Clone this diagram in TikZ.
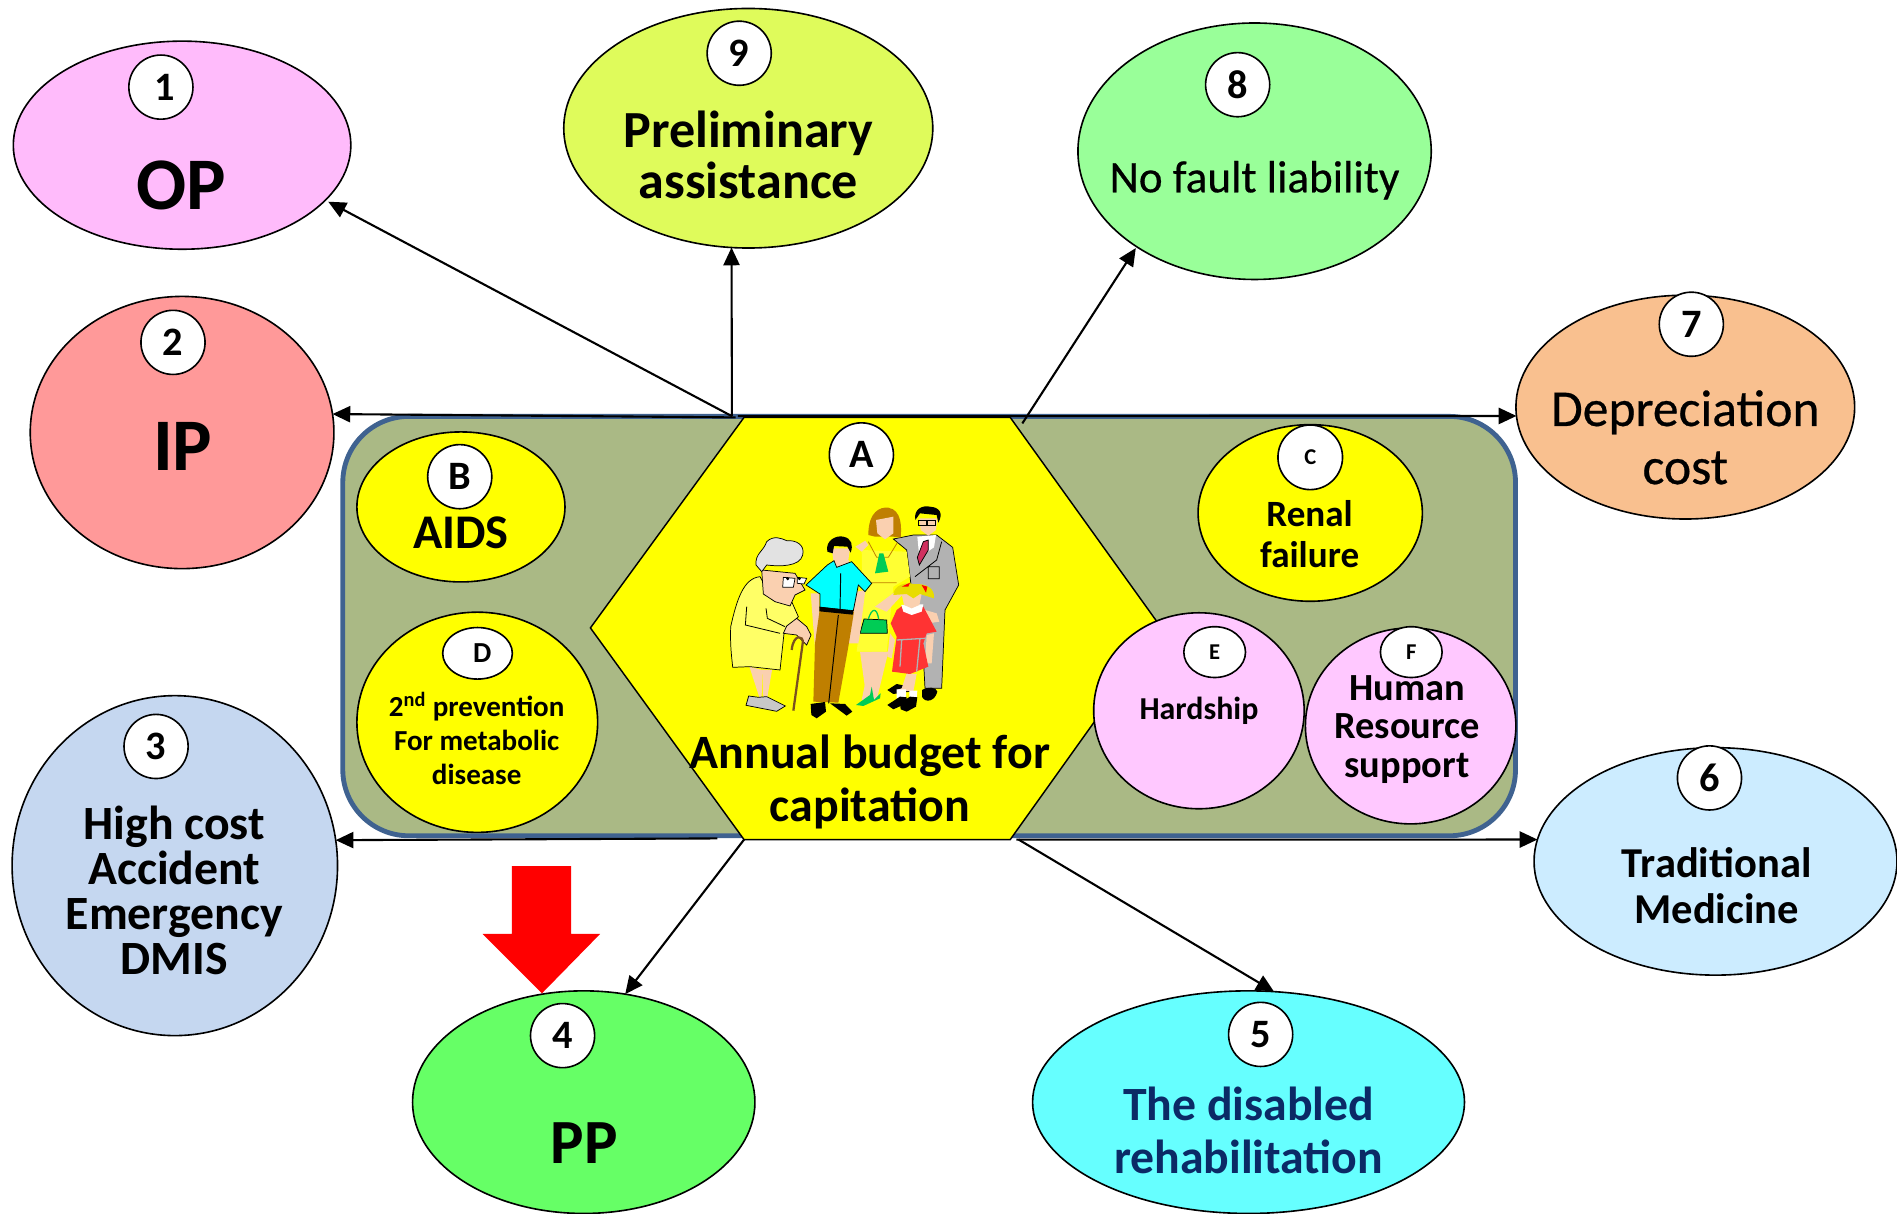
\documentclass[tikz,border=0pt]{standalone}
\usepackage{fontspec}
\setmainfont{Carlito}
\newfontfamily\semifont[FakeBold=0.5]{Carlito}
\usetikzlibrary{shapes.geometric,arrows.meta}
\definecolor{panelfill}{HTML}{AAB985}
\definecolor{panelline}{HTML}{3F6290}
\definecolor{navy}{HTML}{0B2A66}
\definecolor{skin}{HTML}{FAD0B0}
\definecolor{brownish}{HTML}{BF7F00}
\definecolor{suit}{HTML}{B2B2B2}
\definecolor{grandma}{HTML}{FFFF66}
\definecolor{bag}{HTML}{00CC55}
\definecolor{cone}{HTML}{FFBBFB}
\definecolor{cnine}{HTML}{DFFB5B}
\definecolor{ceight}{HTML}{99FF99}
\definecolor{ctwo}{HTML}{FF9999}
\definecolor{cseven}{HTML}{F9C08F}
\definecolor{cthree}{HTML}{C5D7F0}
\definecolor{csix}{HTML}{CCECFF}
\definecolor{cfour}{HTML}{66FF66}
\definecolor{cfive}{HTML}{66FFFF}
\definecolor{cinner}{HTML}{FFC8FF}
\definecolor{hexy}{HTML}{FFFF00}
\definecolor{shirt}{HTML}{00FFFF}
\definecolor{wdress}{HTML}{FFFF33}
\definecolor{girlhair}{HTML}{E8DC00}
\definecolor{girldress}{HTML}{FF3333}
\definecolor{stripe}{HTML}{D03060}
\definecolor{shoe}{HTML}{C8C8C8}
\definecolor{whitehair}{HTML}{E2E2E2}
\definecolor{cane}{HTML}{7A5020}
\newcommand{\fz}[2]{\fontsize{#1pt}{#2pt}\selectfont}
\tikzset{
  oval/.style={ellipse,draw=black,line width=1pt,inner sep=0pt,outer sep=0pt},
  badge/.style={oval,fill=white,font=\bfseries},
  lbl/.style={align=center,inner sep=0pt},
  conn/.style={-{Triangle[length=11pt,width=10pt]},line width=1.3pt,black},
  fig/.style={draw=black,line width=0.45pt}
}
\newcommand{\ov}[7][oval]{\node[#1,fill=#7,minimum width=#5*1.5pt,minimum height=#6*1.5pt] (#2) at (#3,#4) {};}
\newcommand{\bd}[6]{\node[badge,minimum width=#4*1.5pt,minimum height=#5*1.5pt] (#1) at (#2,#3) {#6};}
\begin{document}
\begin{tikzpicture}[x=0.75pt,y=-0.75pt]
\useasboundingbox (0,0) rectangle (1568,1003.4);
% panel
\node[draw=panelline,fill=panelfill,line width=3pt,rounded corners=41pt,minimum width=727pt,minimum height=260pt,inner sep=0pt] (panel) at (768,517.5) {};
% hexagon
\draw[fill=hexy,draw=black,line width=0.9pt] (615,345) -- (835,345) -- (960,519) -- (835,694) -- (615,694) -- (488,519) -- cycle;
\coordinate (hTL) at (605,344);
\coordinate (hTLb) at (608,345);
\coordinate (hT) at (610,344);
\coordinate (hTR) at (845,350);
\coordinate (hBL) at (593,693);
\coordinate (hBLd) at (615,694);
\coordinate (hBR) at (842,694);
\coordinate (hBRr) at (840,694);
% outer ovals
\ov{e1}{150.5}{120}{139.5}{86}{cone}
\ov{e9}{618.5}{106}{152.5}{99}{cnine}
\ov{e8}{1037}{125}{146}{106}{ceight}
\ov{e2}{150.5}{357.5}{125.5}{112.5}{ctwo}
\ov{e7}{1393}{336.5}{140}{92.5}{cseven}
\ov{e3}{144.5}{715.5}{134.5}{140.5}{cthree}
\ov{e6}{1418}{712}{150}{94}{csix}
\ov{e4}{482.5}{911}{141.5}{92}{cfour}
\ov{e5}{1032}{911}{178.5}{92}{cfive}
% inner ovals
\ov{iB}{381}{419}{86}{62}{hexy}
\ov{iD}{394.5}{597}{99.5}{91}{hexy}
\ov{iC}{1083}{424}{92.7}{73}{hexy}
\ov{iE}{991}{587.5}{87}{81}{cinner}
\ov{iF}{1166}{600}{87}{81}{cinner}
% connectors
\draw[conn,shorten >=2pt] (hTL) -- (e1.-21);
\draw[conn] (hTL) -- (e9.-98);
\draw[conn,shorten >=1pt] (hTR) -- (e8.219.6);
\draw[conn] (hTLb) -- (e2.7.5);
\draw[conn] (hT) -- (e7.183);
\draw[conn] (hBL) -- (e3.9.4);
\draw[conn] (hBRr) -- (e6.173);
\draw[conn] (hBLd) -- (e4.69.6);
\draw[conn] (hBR) -- (e5.77.7);
% red arrow
\fill[red] (423,716) -- (472,716) -- (472,772) -- (496,772) -- (448,821) -- (399,772) -- (423,772) -- cycle;
% badges
\bd{b1}{133}{72}{26.5}{26.5}{\fz{25}{25}\kern5pt 1}
\bd{b9}{611}{44}{26.5}{26.5}{\fz{25}{25}9}
\bd{b8}{1023}{70}{26.5}{26.5}{\fz{25}{25}8}
\bd{b2}{143}{283}{26.5}{26.5}{\fz{25}{25}2}
\bd{b7}{1398}{268}{26.5}{26.5}{\fz{25}{25}7}
\bd{b3}{129}{617}{26.5}{26.5}{\fz{25}{25}3}
\bd{b6}{1413}{643}{26.5}{26.5}{\fz{25}{25}6}
\bd{b4}{465}{856}{26.5}{26.5}{\fz{25}{25}4}
\bd{b5}{1042}{855}{26.5}{26.5}{\fz{25}{25}5}
\bd{bA}{712}{376}{26.5}{26.5}{\fz{25}{25}A}
\bd{bB}{380}{394}{26.5}{26.5}{\fz{25}{25}B}
\bd{bC}{1083}{378}{26.7}{26.7}{\fz{14}{14}C}
\bd{bD}{394.7}{540}{28.8}{21.3}{\fz{18}{18}\kern6pt D}
\bd{bE}{1004}{539}{25.5}{21}{\fz{14}{14}E}
\bd{bF}{1166.5}{539}{25.5}{21}{\fz{14}{14}F}
% labels
\node[lbl,font=\bfseries\fz{46}{46}] (tOP) at (150,153) {OP};
\node[lbl,font=\bfseries\fz{46}{46}] (tIP) at (151,369) {IP};
\node[lbl,font=\bfseries\fz{32.3}{31.5}] (t9) at (618.5,128) {Preliminary\\assistance};
\node[lbl,font=\semifont\fz{28}{32}] (t8) at (1037,149) {No fault liability};
\node[lbl,font=\semifont\fz{32}{36}] (t7) at (1393,361.5) {Depreciation\\cost};
\node[lbl,font=\bfseries\fz{29.6}{28}] (t3) at (144,736) {High cost\\Accident\\Emergency\\DMIS};
\node[lbl,font=\bfseries\fz{26.4}{29}] (t6) at (1419,732) {Traditional\\Medicine};
\node[lbl,font=\bfseries\fz{29.6}{33.2},text=navy] (t5) at (1032,934.5) {The disabled\\rehabilitation};
\node[lbl,font=\bfseries\fz{39}{39}] (t4) at (483,945) {PP};
\node[lbl,font=\bfseries\fz{30}{30}] (tB) at (381,440.5) {AIDS};
\node[lbl,font=\bfseries\fz{23}{25}] (tC) at (1082.5,441.5) {Renal\\failure};
\node[lbl,font=\bfseries\fz{18}{21}] (tD) at (394,610.5) {2\textsuperscript{nd} prevention\\For metabolic\\disease};
\node[lbl,font=\bfseries\fz{19.8}{20}] (tE) at (991,587.5) {Hardship};
\node[lbl,font=\bfseries\fz{23.8}{24}] (tF) at (1163,603) {Human\\Resource\\support};
\node[lbl,font=\bfseries\fz{29.7}{32.5}] (tA) at (719,646.5) {Annual budget for\\capitation};
% family clip-art
\begin{scope}[shift={(562.1,388.5)},x=0.2066pt,y=-0.2066pt]
 % father
 \draw[fig,fill=suit] (640,207) -- (700,195) -- (770,195) -- (818,232) -- (836,345) -- (795,420) -- (785,655) -- (735,655) -- (730,560) -- (700,400) -- (690,320) -- (680,240) -- cycle;
 \fill[white] (712,200) -- (768,195) -- (762,232) -- (718,262) -- cycle;
 \draw[fig,fill=stripe] (730,215) -- (745,210) -- (745,240) -- (718,285) -- (712,262) -- cycle;
 \draw[black,line width=.5pt] (785,215) -- (770,270) -- (705,320) (745,290) rectangle (778,326);
 \fill[skin] (718,145) -- (772,145) -- (768,180) -- (745,197) -- (722,180) -- cycle;
 \fill[black] (706,150) .. controls (700,115) and (730,105) .. (750,110) .. controls (780,112) and (790,130) .. (775,158) -- (770,135) -- (720,130) -- cycle;
 \draw[black,line width=.4pt] (714,150) rectangle (738,165) (742,150) rectangle (766,165);
 \fill[black] (726,660) .. controls (740,650) and (770,650) .. (772,665) .. controls (765,695) and (735,700) .. (726,680) -- cycle;
 \fill[black] (622,660) -- (650,642) -- (690,650) -- (690,665) -- (640,672) -- cycle;
 % woman
 \fill[skin] (590,690) -- (625,545) -- (575,545) -- (545,690) -- cycle;
 \fill[skin] (570,690) -- (610,545) -- (540,545) -- (560,690) -- cycle;
 \fill[wdress] (545,240) -- (680,245) -- (690,320) -- (640,350) -- (620,545) -- (530,545) -- (548,400) -- cycle;
 \draw[brownish,line width=.5pt] (565,215) -- (590,262) -- (625,262) -- (652,218) (575,338) -- (650,338);
 \fill[brownish] (565,195) .. controls (565,125) and (600,110) .. (625,113) .. controls (665,120) and (665,170) .. (662,203) -- (640,200) -- (585,200) -- cycle;
 \fill[skin] (588,150) -- (640,140) -- (640,190) -- (615,208) -- (592,190) -- cycle;
 \fill[bag] (598,250) -- (610,250) -- (625,305) -- (585,310) -- cycle;
 \fill[skin] (526,230) -- (556,212) -- (565,225) -- (545,245) -- cycle;
 \fill[bag] (528,705) -- (570,675) -- (575,650) -- (582,690) -- (602,670) -- (600,685) -- (550,708) -- cycle;
 \draw[fig,fill=bag] (552,447) -- (620,450) -- (622,490) -- (540,490) -- cycle;
 \draw[bag,line width=.8pt] (565,447) .. controls (575,415) and (590,410) .. (596,447);
 \fill[skin] (585,410) -- (680,340) -- (690,350) -- (620,425) -- cycle;
 % son
 \fill[skin] (392,370) -- (418,370) -- (418,520) -- (445,535) -- (405,535) -- cycle;
 \fill[skin] (530,365) -- (556,360) -- (540,490) -- (535,520) -- (500,520) -- cycle;
 \fill[brownish] (420,412) -- (522,425) -- (505,530) -- (475,698) -- (400,695) -- (405,520) -- cycle;
 \draw[black,line width=.6pt] (475,435) -- (446,700);
 \fill[skin] (455,235) -- (510,235) -- (505,270) -- (515,285) -- (465,300) -- (460,270) -- cycle;
 \fill[black] (442,245) .. controls (435,210) and (470,195) .. (490,200) .. controls (515,205) and (520,225) .. (512,248) -- (502,230) -- (462,228) -- (458,250) -- cycle;
 \draw[fig,fill=shirt] (378,345) -- (442,285) -- (462,272) -- (470,292) -- (515,275) -- (575,340) -- (555,365) -- (535,345) -- (520,422) -- (420,412) -- (420,372) -- cycle;
 \draw[black,line width=.6pt] (482,310) -- (480,422);
 \fill[black] (418,410) -- (520,422) -- (518,434) -- (418,424) -- cycle;
 \fill[black] (392,702) -- (435,696) -- (438,725) -- (410,745) -- (394,735) -- cycle;
 \fill[black] (450,700) -- (495,702) -- (517,725) -- (500,737) -- cycle;
 % girl
 \fill[skin] (680,610) -- (665,655) -- (650,660) -- (700,665) -- (710,612) -- cycle;
 \fill[skin] (630,490) -- (622,560) -- (635,565) -- (645,510) -- cycle;
 \fill[skin] (740,495) -- (735,580) -- (755,580) -- (762,490) -- cycle;
 \fill[skin] (735,420) -- (770,430) -- (778,455) -- (745,460) -- cycle;
 \fill[girldress] (650,420) -- (670,405) -- (730,410) -- (770,485) -- (740,490) -- (730,520) -- (745,590) -- (690,612) -- (636,605) -- (650,500) -- (632,460) -- cycle;
 \fill[white] (664,405) -- (730,403) -- (725,425) -- (695,435) -- (670,425) -- cycle;
 \draw[suit,line width=.8pt] (650,510) -- (735,505) (665,510) -- (660,590) (720,505) -- (710,605);
 \fill[skin] (665,372) -- (725,372) -- (718,405) -- (695,415) -- (672,405) -- cycle;
 \fill[girlhair] (640,375) .. controls (640,345) and (680,335) .. (700,342) .. controls (740,340) and (765,355) .. (762,385) -- (720,372) -- (700,385) -- (680,372) -- cycle;
 \fill[red] (665,350) -- (690,338) -- (685,350) -- cycle (725,345) -- (742,350) -- (738,368) -- cycle;
 \fill[white] (650,658) -- (678,658) -- (678,680) -- (650,685) -- cycle (688,662) -- (712,662) -- (710,685) -- (688,685) -- cycle;
 \fill[black] (622,705) -- (660,680) -- (680,682) -- (680,700) -- (640,718) -- cycle;
 \fill[black] (660,700) -- (690,680) -- (712,682) -- (708,710) -- (680,725) -- (662,718) -- cycle;
 % grandmother
 \fill[skin] (208,590) -- (238,682) -- (245,682) -- (246,600) -- cycle;
 \fill[skin] (246,600) -- (250,682) -- (262,682) -- (276,600) -- cycle;
 \draw[fig,fill=shoe] (198,706) -- (206,678) -- (235,682) -- (260,680) -- (316,708) -- (290,724) -- cycle;
 \draw[fig,fill=grandma] (240,320) .. controls (190,325) and (170,390) .. (152,470) .. controls (150,530) and (155,560) .. (158,592) -- (210,590) -- (300,600) -- (312,490) -- (355,440) -- (335,395) -- (275,385) -- cycle;
 \draw[black,line width=.5pt] (200,410) -- (196,465) -- (300,490) (258,415) -- (262,445) -- (315,470);
 \draw[fig,fill=skin] (245,300) -- (345,310) -- (375,360) -- (345,375) -- (330,408) -- (285,395) -- (250,372) -- cycle;
 \draw[fig,fill=skin] (320,468) -- (350,445) -- (380,470) -- (393,495) -- (380,525) -- (350,495) -- (310,490) -- cycle;
 \draw[fig,fill=whitehair] (228,285) .. controls (225,250) and (250,245) .. (260,215) .. controls (280,195) and (305,205) .. (320,212) .. controls (350,210) and (375,225) .. (368,255) .. controls (360,290) and (300,290) .. (260,285) -- (245,305) -- cycle;
 \draw[fig,fill=white] (310,322) -- (345,325) -- (340,352) -- (308,352) -- cycle (352,322) -- (380,325) -- (372,342) -- (352,340) -- cycle;
 \fill[black] (323,326) circle (5) (358,326) circle (5);
 \draw[cane,line width=1.4pt] (340,722) -- (368,520) .. controls (372,495) and (340,490) .. (335,540);
\end{scope}
\end{tikzpicture}
\end{document}
